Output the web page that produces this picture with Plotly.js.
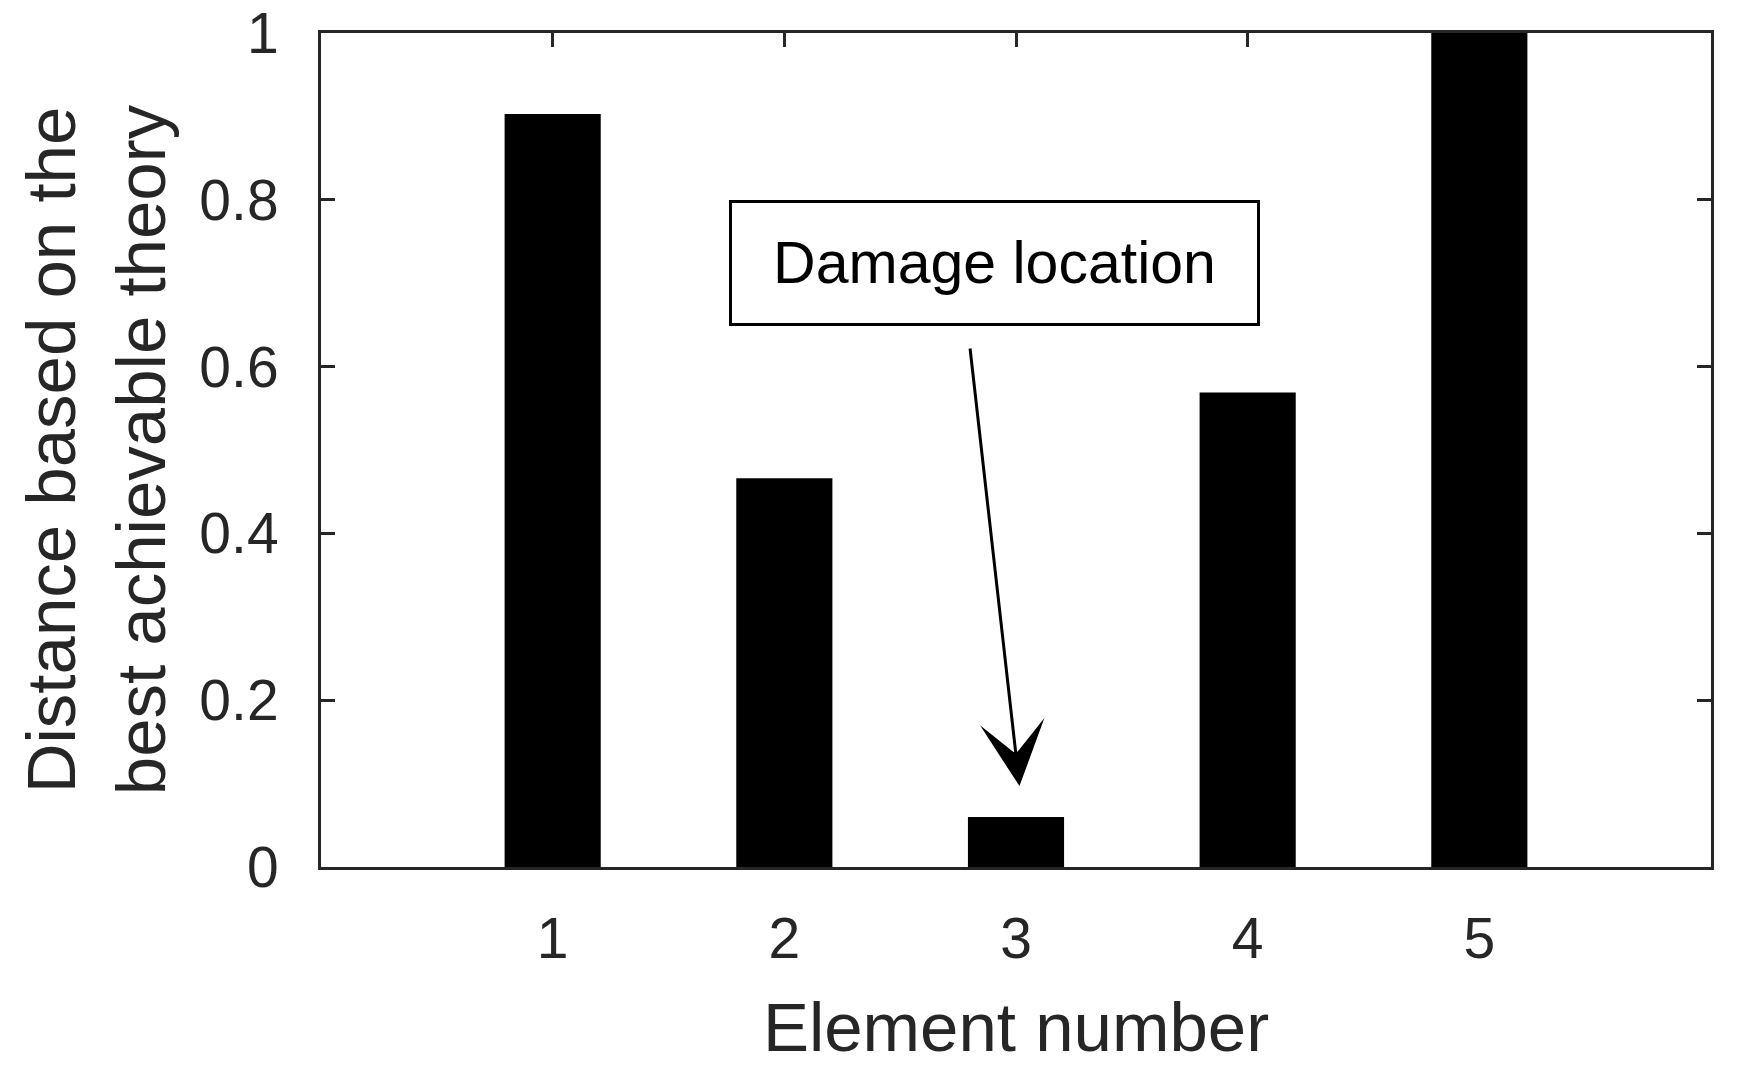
<!DOCTYPE html>
<html>
<head>
<meta charset="utf-8">
<script src="https://cdn.plot.ly/plotly-3.0.1.min.js"></script>
<style>
  html, body { margin: 0; padding: 0; background: #fff; }
  #myDiv { width: 1743px; height: 1077px; }
</style>
</head>
<body>
<div id="myDiv"></div>
<script>
  // element numbers and distance values
  var elements = [1, 2, 3, 4, 5];
  var distance = [0.903, 0.466, 0.06, 0.569, 1.0];
  var yTicks = [0, 0.2, 0.4, 0.6, 0.8, 1];
  var yTickText = ['0', '0.2', '0.4', '0.6', '0.8', '1'];

  var axisColor = '#262626';
  var fontFamily = 'Liberation Sans, Arial, sans-serif';

  var trace1 = {
    x: elements,
    y: distance,
    type: 'bar',
    width: 0.415,
    marker: { color: '#000000', line: { width: 0 } },
    hoverinfo: 'x+y'
  };

  var data = [ trace1 ];

  var layout = {
    width: 1743,
    height: 1077,
    margin: { l: 321, r: 32, t: 33, b: 210 },
    paper_bgcolor: '#ffffff',
    plot_bgcolor: '#ffffff',
    showlegend: false,
    font: { family: fontFamily, color: axisColor },
    xaxis: {
      range: [0, 6],
      tickvals: elements,
      ticktext: elements.map(String),
      ticks: 'inside',
      ticklen: 14,
      tickwidth: 3,
      tickcolor: axisColor,
      showline: true,
      linewidth: 3,
      linecolor: axisColor,
      mirror: 'ticks',
      layer: 'below traces',
      showgrid: false,
      zeroline: false,
      tickfont: { size: 57, color: axisColor },
      ticklabelstandoff: 20,
      title: { text: 'Element number', font: { size: 69, color: axisColor }, standoff: 34 }
    },
    yaxis: {
      range: [0, 1],
      tickvals: yTicks,
      ticktext: yTickText,
      ticks: 'inside',
      ticklen: 14,
      tickwidth: 3,
      tickcolor: axisColor,
      showline: true,
      linewidth: 3,
      linecolor: axisColor,
      mirror: 'ticks',
      layer: 'below traces',
      showgrid: false,
      zeroline: false,
      tickfont: { size: 57, color: axisColor },
      ticklabelstandoff: 28,
      title: { text: 'Distance based on the<br>best achievable theory', font: { size: 69, color: axisColor }, standoff: 12 }
    },
    annotations: [
      {
        // text box
        x: 2.907, y: 0.724, xref: 'x', yref: 'y',
        text: 'Damage location',
        showarrow: false,
        font: { size: 59, color: '#000000', family: fontFamily },
        bgcolor: '#ffffff',
        bordercolor: '#000000',
        borderwidth: 3,
        borderpad: 0,
        width: 525,
        height: 120,
        align: 'center',
        xanchor: 'center', yanchor: 'middle'
      },
      {
        // arrow pointing at element 3
        x: 3.015, y: 0.097, xref: 'x', yref: 'y',
        ax: 2.801, ay: 0.6235, axref: 'x', ayref: 'y',
        text: '',
        showarrow: true,
        arrowhead: 3,
        arrowsize: 3.6,
        arrowwidth: 3,
        arrowcolor: '#000000',
        standoff: 0,
        startstandoff: 0
      }
    ]
  };

  Plotly.newPlot('myDiv', data, layout, { displayModeBar: false, staticPlot: true });
</script>
</body>
</html>
